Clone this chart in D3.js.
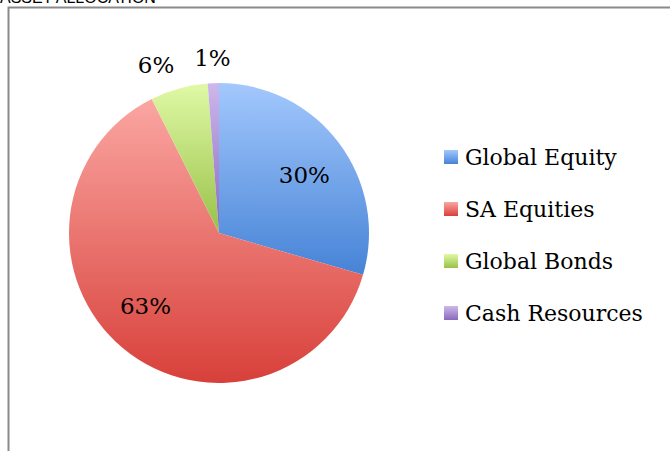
<!DOCTYPE html>
<html><head><meta charset="utf-8">
<script src="https://cdn.jsdelivr.net/npm/d3@7"></script>
<style>body{margin:0;background:#fff}svg{display:block}</style>
</head><body>
<script>
const categories = ["Global Equity", "SA Equities", "Global Bonds", "Cash Resources"];
const values = [29.5, 63.1, 6.2, 1.2];
const labels = ["30%", "63%", "6%", "1%"];
const colorsLight = ["#a3c8fd", "#fba6a2", "#e0f9a6", "#cdb8ec"];
const colorsDark = ["#4683d6", "#d8403a", "#98c148", "#8a68bd"];
const title = "ASSET ALLOCATION";

const W = 670, H = 451;
const svg = d3.select("body").append("svg").attr("width", W).attr("height", H);
const defs = svg.append("defs");
categories.forEach((c, i) => {
  const g = defs.append("linearGradient").attr("id", "g" + i)
    .attr("x1", 0).attr("y1", 0).attr("x2", 0).attr("y2", 1);
  g.append("stop").attr("offset", "0%").attr("stop-color", colorsLight[i]);
  g.append("stop").attr("offset", "100%").attr("stop-color", colorsDark[i]);
});

svg.append("text").attr("x", 0).attr("y", 2.5).text(title)
  .style("font-family", "Liberation Sans, Arial, sans-serif").style("font-size", "16px").attr("fill", "#000");

svg.append("path").attr("d", `M8.5,${H} L8.5,7.5 L${W},7.5`).attr("fill", "none")
  .attr("stroke", "#8a8a8a").attr("stroke-width", 2);

const cx = 219, cy = 233, r = 150;
const pie = d3.pie().sort(null).value(d => d);
const arcs = pie(values);
const arc = d3.arc().innerRadius(0).outerRadius(r);
const g = svg.append("g").attr("transform", `translate(${cx},${cy})`);
g.selectAll("path").data(arcs).enter().append("path")
  .attr("d", arc).attr("fill", (d, i) => `url(#g${i})`);

// label placement: radius fraction and angular nudge (degrees)
const labelR = [0.69, 0.69, 1.2, 1.17];
const labelNudge = [2.5, 5.5, -5, 0];
g.selectAll("text.lbl").data(arcs).enter().append("text").attr("class", "lbl")
  .attr("transform", (d, i) => {
    const a = (d.startAngle + d.endAngle) / 2 + labelNudge[i] * Math.PI / 180;
    const rr = r * labelR[i];
    return `translate(${rr * Math.sin(a)},${-rr * Math.cos(a)})`;
  })
  .attr("text-anchor", "middle").attr("dy", "0.36em")
  .style("font-family", "DejaVu Serif, serif").style("font-size", "23px")
  .text((d, i) => labels[i]);

const lg = svg.append("g").attr("transform", "translate(444,157)");
const rows = lg.selectAll("g").data(categories).enter().append("g")
  .attr("transform", (d, i) => `translate(0,${i * 52})`);
rows.append("rect").attr("x", 0).attr("y", -7).attr("width", 14).attr("height", 14)
  .attr("fill", (d, i) => `url(#g${i})`);
rows.append("text").attr("x", 21).attr("y", 0).attr("dy", "0.36em")
  .style("font-family", "DejaVu Serif, serif").style("font-size", "22px")
  .text(d => d);
</script>
</body></html>
